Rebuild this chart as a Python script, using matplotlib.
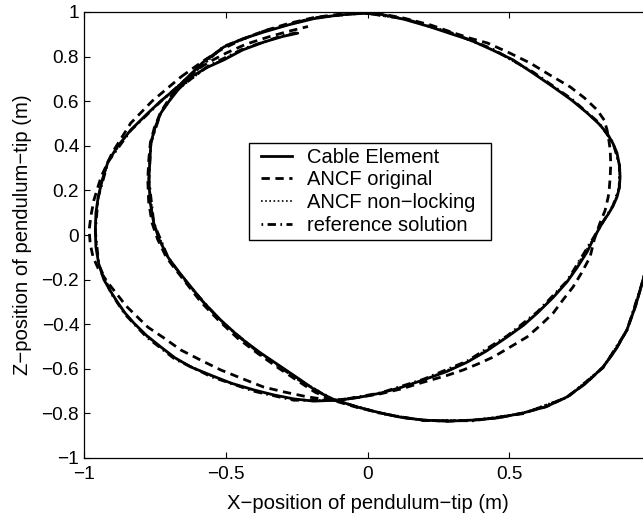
import numpy as np
import matplotlib
matplotlib.use("Agg")
import matplotlib.pyplot as plt
from matplotlib.lines import Line2D
from matplotlib.patches import Rectangle

plt.rcParams['font.family'] = ['Liberation Sans', 'DejaVu Sans']
plt.rcParams['font.size'] = 13.7

# ---------------- data ----------------
# Cable Element: open spiral (from right edge -> bottom -> inner -> upper-left end)
cable_spiral_x = [1.0, 0.992, 0.972, 0.945, 0.915, 0.875, 0.831, 0.77, 0.704, 0.63, 0.549, 0.46, 0.373,
                  0.28, 0.197, 0.12, 0.046, -0.04, -0.12, -0.18, -0.236, -0.30, -0.377, -0.45, -0.518,
                  -0.58, -0.634, -0.675, -0.704, -0.735, -0.754, -0.767, -0.771, -0.768, -0.764, -0.75,
                  -0.729, -0.70, -0.669, -0.623, -0.563, -0.507, -0.44, -0.366, -0.30, -0.246]
cable_spiral_z = [-0.02, -0.10, -0.202, -0.32, -0.426, -0.515, -0.592, -0.665, -0.726, -0.77, -0.798,
                  -0.82, -0.830, -0.835, -0.830, -0.818, -0.798, -0.77, -0.737, -0.70, -0.650, -0.595,
                  -0.529, -0.46, -0.381, -0.30, -0.215, -0.15, -0.099, -0.02, 0.054, 0.15, 0.247, 0.33,
                  0.413, 0.48, 0.547, 0.60, 0.650, 0.709, 0.753, 0.785, 0.83, 0.865, 0.89, 0.905]
# Cable Element: outer loop
cable_loop_x = [-0.669, -0.62, -0.58, -0.507, -0.44, -0.366, -0.28, -0.19, -0.10, -0.014, 0.046, 0.13,
                0.222, 0.30, 0.363, 0.44, 0.514, 0.585, 0.655, 0.72, 0.775, 0.815, 0.845, 0.866, 0.880,
                0.889, 0.891, 0.888, 0.880, 0.866, 0.850, 0.831, 0.80, 0.775, 0.74, 0.704, 0.655, 0.599,
                0.55, 0.493, 0.42, 0.352, 0.28, 0.197, 0.12, 0.046, -0.03, -0.095, -0.19, -0.26, -0.331,
                -0.40, -0.482, -0.55, -0.623, -0.68, -0.729, -0.78, -0.824, -0.855, -0.880, -0.905,
                -0.930, -0.948, -0.958, -0.960, -0.958, -0.95, -0.935, -0.915, -0.88, -0.835, -0.78,
                -0.73, -0.669]
cable_loop_z = [0.664, 0.725, 0.775, 0.843, 0.880, 0.910, 0.942, 0.970, 0.987, 0.994, 0.990, 0.967,
                0.933, 0.900, 0.874, 0.830, 0.785, 0.725, 0.664, 0.605, 0.547, 0.500, 0.457, 0.410, 0.368,
                0.310, 0.260, 0.210, 0.170, 0.130, 0.095, 0.060, -0.010, -0.075, -0.145, -0.210, -0.280,
                -0.350, -0.405, -0.457, -0.520, -0.570, -0.612, -0.650, -0.683, -0.709, -0.728, -0.740,
                -0.745, -0.735, -0.717, -0.695, -0.664, -0.630, -0.592, -0.550, -0.502, -0.450, -0.395,
                -0.350, -0.305, -0.255, -0.200, -0.130, -0.054, 0.020, 0.099, 0.170, 0.250, 0.330,
                0.400, 0.471, 0.540, 0.600, 0.664]

# ANCF original
ancf_spiral_x = [1.0, 0.992, 0.972, 0.945, 0.915, 0.875, 0.831, 0.77, 0.704, 0.63, 0.549, 0.46, 0.373,
                 0.28, 0.197, 0.12, 0.046, -0.04, -0.12, -0.185, -0.245, -0.31, -0.385, -0.458, -0.525,
                 -0.588, -0.64, -0.68, -0.71, -0.74, -0.76, -0.772, -0.775, -0.772, -0.766, -0.752,
                 -0.73, -0.70, -0.668, -0.62, -0.56, -0.50, -0.43, -0.35, -0.28, -0.21]
ancf_spiral_z = [-0.02, -0.10, -0.202, -0.32, -0.426, -0.515, -0.592, -0.665, -0.726, -0.77, -0.798,
                 -0.82, -0.830, -0.835, -0.830, -0.818, -0.798, -0.772, -0.742, -0.705, -0.655, -0.600,
                 -0.533, -0.463, -0.383, -0.30, -0.215, -0.15, -0.099, -0.02, 0.054, 0.15, 0.247, 0.33,
                 0.413, 0.48, 0.55, 0.61, 0.665, 0.725, 0.775, 0.815, 0.855, 0.888, 0.913, 0.935]
ancf_loop_x = [-0.658, -0.58, -0.518, -0.44, -0.366, -0.28, -0.19, -0.10, -0.014, 0.046, 0.13, 0.222,
               0.30, 0.363, 0.423, 0.50, 0.574, 0.64, 0.715, 0.765, 0.810, 0.835, 0.845, 0.852, 0.856,
               0.858, 0.856, 0.853, 0.849, 0.838, 0.820, 0.80, 0.785, 0.755, 0.725, 0.69, 0.655, 0.61,
               0.563, 0.50, 0.444, 0.39, 0.338, 0.28, 0.197, 0.12, 0.046, -0.03, -0.095, -0.15, -0.211,
               -0.29, -0.366, -0.44, -0.518, -0.59, -0.658, -0.72, -0.775, -0.85, -0.915, -0.95,
               -0.968, -0.978, -0.982, -0.975, -0.965, -0.94, -0.90, -0.835, -0.76, -0.658]
ancf_loop_z = [0.709, 0.780, 0.830, 0.878, 0.915, 0.948, 0.975, 0.990, 0.996, 0.992, 0.972, 0.942,
               0.908, 0.882, 0.861, 0.817, 0.771, 0.720, 0.664, 0.615, 0.561, 0.515, 0.471, 0.420, 0.381,
               0.320, 0.260, 0.210, 0.170, 0.110, 0.054, -0.020, -0.099, -0.170, -0.233, -0.290, -0.350,
               -0.405, -0.457, -0.505, -0.547, -0.578, -0.605, -0.630, -0.660, -0.690, -0.712, -0.728,
               -0.738, -0.737, -0.726, -0.705, -0.682, -0.645, -0.605, -0.560, -0.516, -0.460, -0.413,
               -0.320, -0.215, -0.150, -0.099, -0.040, 0.022, 0.090, 0.157, 0.260, 0.370, 0.502,
               0.600, 0.709]

# ANCF non-locking (practically on top of the cable element)
nonlock_spiral_x = [1.0, 0.972, 0.915, 0.831, 0.704, 0.549, 0.373, 0.197, 0.046, -0.12, -0.236, -0.377,
                    -0.518, -0.634, -0.704, -0.754, -0.771, -0.764, -0.729, -0.669, -0.563, -0.44, -0.30,
                    -0.25]
nonlock_spiral_z = [-0.02, -0.202, -0.426, -0.592, -0.726, -0.798, -0.830, -0.830, -0.798, -0.737,
                    -0.652, -0.532, -0.384, -0.218, -0.10, 0.054, 0.247, 0.413, 0.547, 0.652, 0.755,
                    0.832, 0.892, 0.905]
nonlock_loop_x = [-0.669, -0.507, -0.366, -0.19, -0.014, 0.13, 0.30, 0.44, 0.585, 0.72, 0.815, 0.866,
                  0.889, 0.888, 0.866, 0.80, 0.704, 0.599, 0.493, 0.352, 0.197, 0.046, -0.095, -0.26,
                  -0.40, -0.55, -0.68, -0.78, -0.855, -0.905, -0.948, -0.960, -0.95, -0.915, -0.835,
                  -0.73, -0.669]
nonlock_loop_z = [0.664, 0.843, 0.912, 0.972, 0.994, 0.968, 0.902, 0.832, 0.727, 0.607, 0.502, 0.412,
                  0.310, 0.210, 0.130, -0.008, -0.208, -0.348, -0.455, -0.568, -0.650, -0.711, -0.742,
                  -0.738, -0.698, -0.633, -0.553, -0.454, -0.354, -0.258, -0.130, 0.020, 0.170, 0.330,
                  0.471, 0.600, 0.664]

# reference solution
ref_spiral_x = [1.0, 0.972, 0.915, 0.831, 0.704, 0.549, 0.373, 0.197, 0.046, -0.12, -0.236, -0.377,
                -0.518, -0.634, -0.704, -0.754, -0.771, -0.764, -0.729, -0.669, -0.563, -0.44, -0.30,
                -0.25]
ref_spiral_z = [-0.02, -0.202, -0.428, -0.595, -0.729, -0.801, -0.833, -0.832, -0.800, -0.740, -0.655,
                -0.535, -0.386, -0.220, -0.10, 0.054, 0.247, 0.413, 0.550, 0.655, 0.757, 0.834, 0.894,
                0.907]
ref_loop_x = [-0.669, -0.507, -0.366, -0.19, -0.014, 0.13, 0.30, 0.44, 0.585, 0.72, 0.815, 0.866, 0.889,
              0.888, 0.866, 0.80, 0.704, 0.599, 0.493, 0.352, 0.197, 0.046, -0.095, -0.26, -0.40, -0.55,
              -0.68, -0.78, -0.855, -0.905, -0.948, -0.960, -0.95, -0.915, -0.835, -0.73, -0.669]
ref_loop_z = [0.667, 0.846, 0.914, 0.974, 0.996, 0.970, 0.905, 0.835, 0.730, 0.610, 0.505, 0.414, 0.312,
              0.212, 0.132, -0.006, -0.206, -0.345, -0.452, -0.565, -0.647, -0.708, -0.740, -0.741,
              -0.701, -0.636, -0.556, -0.457, -0.356, -0.260, -0.132, 0.018, 0.168, 0.328, 0.469,
              0.598, 0.667]

labels = ["Cable Element", "ANCF original", "ANCF non\u2212locking", "reference solution"]
x_ticks = [-1, -0.5, 0, 0.5]
x_ticklabels = ["\u22121", "\u22120.5", "0", "0.5"]
y_ticks = [-1, -0.8, -0.6, -0.4, -0.2, 0, 0.2, 0.4, 0.6, 0.8, 1]
y_ticklabels = ["\u22121", "\u22120.8", "\u22120.6", "\u22120.4", "\u22120.2", "0",
                "0.2", "0.4", "0.6", "0.8", "1"]

# ---------------- figure ----------------
W, H = 643, 516
fig = plt.figure(figsize=(W / 100, H / 100), dpi=100)
# the original axes extends to x = 1 slightly beyond the cropped right border
ax = fig.add_axes([84 / W, 1 - 458 / H, (651 - 84) / W, (458 - 12) / H])

styles = [
    dict(color='black', lw=2.0, ls='-'),
    dict(color='black', lw=2.0, ls=(0, (3, 2))),
    dict(color='black', lw=1.2, ls=(0, (1, 1.5))),
    dict(color='black', lw=2.0, ls=(0, (0.6, 1.6, 3, 1.6))),
]
series = [
    (cable_spiral_x, cable_spiral_z, cable_loop_x, cable_loop_z),
    (ancf_spiral_x, ancf_spiral_z, ancf_loop_x, ancf_loop_z),
    (nonlock_spiral_x, nonlock_spiral_z, nonlock_loop_x, nonlock_loop_z),
    (ref_spiral_x, ref_spiral_z, ref_loop_x, ref_loop_z),
]
for (sx, sz, lx, lz), st in zip(series, styles):
    ax.plot(sx, sz, solid_capstyle='round', dash_capstyle='butt', **st)
    ax.plot(lx, lz, solid_capstyle='round', dash_capstyle='butt', **st)

ax.set_xlim(-1, 1)
ax.set_ylim(-1, 1)
ax.set_xticks(x_ticks)
ax.set_xticklabels(x_ticklabels)
ax.set_yticks(y_ticks)
ax.set_yticklabels(y_ticklabels)
ax.tick_params(direction='in', top=True, right=True, length=4.5, width=0.8, labelsize=13.7)
ax.tick_params(axis='x', pad=6)
ax.tick_params(axis='y', pad=3.5)
for sp in ax.spines.values():
    sp.set_linewidth(0.9)

ax.set_xlabel("X\u2212position of pendulum\u2212tip (m)", fontsize=14.6, labelpad=7.5)
ax.set_ylabel("Z\u2212position of pendulum\u2212tip (m)", fontsize=14.6, labelpad=6.5)

# legend box (MATLAB style, extra room on the right)
box = Rectangle((0.291, 0.489), 0.4268, 0.2175, transform=ax.transAxes,
                facecolor='white', edgecolor='black', lw=1.0, zorder=4)
ax.add_patch(box)
handles = [Line2D([], [], **st) for st in styles]
leg = ax.legend(handles, labels, loc='upper left', bbox_to_anchor=(0.312, 0.696),
                borderaxespad=0, frameon=False, handlelength=1.54, handletextpad=0.745,
                labelspacing=0.19, borderpad=0, fontsize=14.5)
leg.set_zorder(5)

fig.savefig("out.png", dpi=100)
